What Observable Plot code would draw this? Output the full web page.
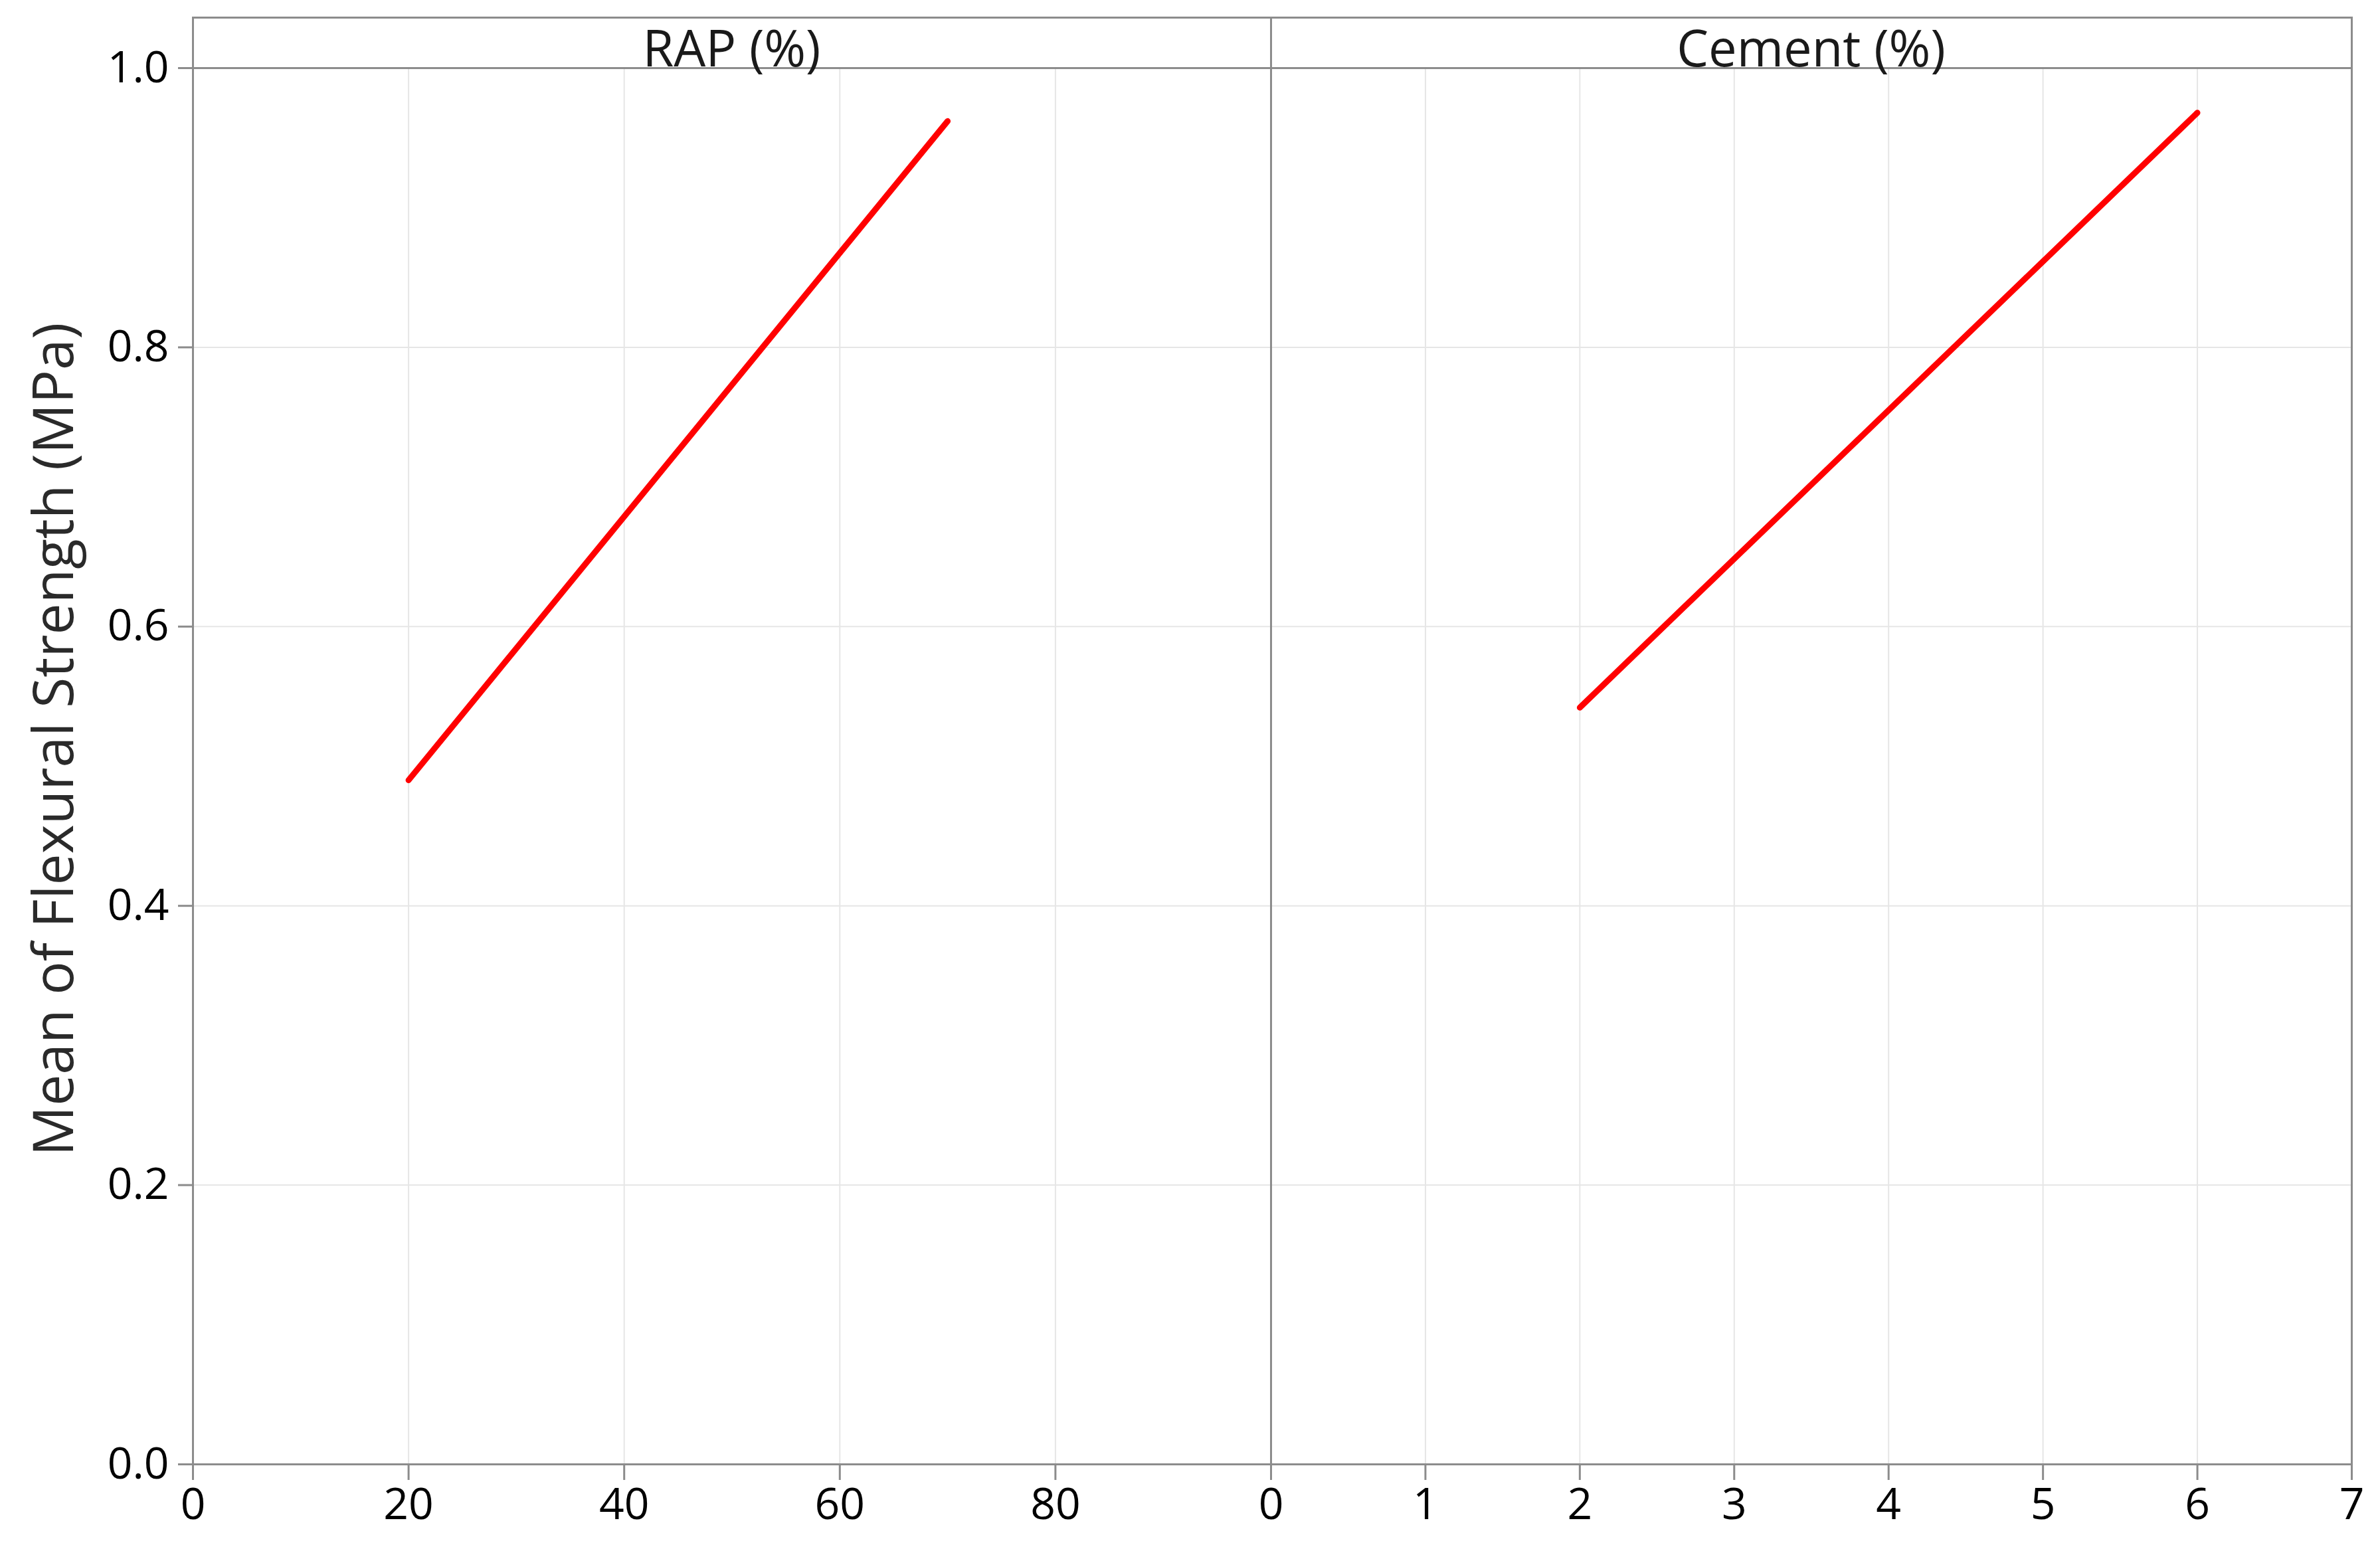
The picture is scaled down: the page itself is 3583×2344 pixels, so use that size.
<!DOCTYPE html>
<html><head><meta charset="utf-8">
<script src="https://cdn.jsdelivr.net/npm/d3@7"></script>
<script src="https://cdn.jsdelivr.net/npm/@observablehq/plot@0.6"></script>
<style>
body{margin:0;background:#fff;}
#chart{position:relative;width:3583px;height:2344px;font-family:"Open Sans",sans-serif;overflow:hidden;}
.panel{position:absolute;top:0;}
.strip{position:absolute;top:25px;height:78px;box-sizing:border-box;border:3px solid #8c8c8c;border-bottom:none;display:flex;align-items:center;justify-content:center;font-size:76px;color:#1a1a1a;padding-top:10px;}
.ytitle{position:absolute;width:1600px;left:-722px;top:1068px;height:90px;line-height:90px;text-align:center;font-size:84px;color:#2a2a2a;transform:rotate(-90deg);}
</style></head><body><div id="chart"></div>
<script>
const yAxisTitle = "Mean of Flexural Strength (MPa)";
const panelLabels = ["RAP (%)", "Cement (%)"];
const rapLevels = [20, 70];
const rapMeans = [0.490, 0.962];
const cementLevels = [2, 6];
const cementMeans = [0.542, 0.968];
const rapTicks = [0, 20, 40, 60, 80];
const cementTicks = [0, 1, 2, 3, 4, 5, 6, 7];
const yTicks = [0, 0.2, 0.4, 0.6, 0.8, 1.0];

const W = 3583, H = 2344;
const pLeft = 290, pMid = 1913, pRight = 3540, pTop = 102, pBottom = 2204;
const frameColor = "#8c8c8c", gridColor = "#e6e6e6", lineColor = "#ff0000";
const chart = document.getElementById("chart");

const rapData = rapLevels.map((x, i) => ({x, y: rapMeans[i]}));
const cementData = cementLevels.map((x, i) => ({x, y: cementMeans[i]}));

function panel({data, domain, ticks, width, ml, mr, yAxis}) {
  const marks = [
    Plot.gridX(ticks.filter(t => t !== domain[0]), {stroke: gridColor, strokeOpacity: 1, strokeWidth: 2}),
    Plot.gridY(yTicks.filter(t => t !== 0 && t !== 1), {stroke: gridColor, strokeOpacity: 1, strokeWidth: 2}),
    Plot.axisX(ticks, {tickSize: 24, tickPadding: 12, fontSize: 66, tickFormat: d3.format("d"), stroke: frameColor, strokeWidth: 3, fill: "#000", label: null}),
    Plot.frame({stroke: frameColor, strokeWidth: 3}),
    Plot.line(data, {x: "x", y: "y", stroke: lineColor, strokeWidth: 9, strokeLinecap: "round"})
  ];
  if (yAxis) marks.push(Plot.axisY(yTicks, {tickSize: 22, tickPadding: 14, fontSize: 66, tickFormat: d3.format(".1f"), stroke: frameColor, strokeWidth: 3, fill: "#000", label: null}));
  return Plot.plot({
    width, height: H,
    marginLeft: ml, marginRight: mr, marginTop: pTop, marginBottom: H - pBottom,
    style: {fontFamily: "Open Sans, sans-serif", overflow: "visible", background: "transparent"},
    x: {domain, label: null},
    y: {domain: [0, 1], label: null, axis: yAxis ? undefined : null},
    marks
  });
}

const p1 = panel({data: rapData, domain: [0, 100], ticks: rapTicks, width: pMid, ml: pLeft, mr: 0, yAxis: true});
p1.classList.add("panel"); p1.style.left = "0px";
const p2 = panel({data: cementData, domain: [0, 7], ticks: cementTicks, width: W - pMid, ml: 0, mr: W - pRight, yAxis: false});
p2.classList.add("panel"); p2.style.left = pMid + "px";
chart.appendChild(p1); chart.appendChild(p2);

[[pLeft, pMid], [pMid, pRight]].forEach(([a, b], i) => {
  const s = document.createElement("div");
  s.className = "strip";
  s.style.left = (a - 1.5) + "px";
  s.style.width = (b - a + 3) + "px";
  s.textContent = panelLabels[i];
  chart.appendChild(s);
});

const t = document.createElement("div");
t.className = "ytitle";
t.textContent = yAxisTitle;
chart.appendChild(t);
</script></body></html>
